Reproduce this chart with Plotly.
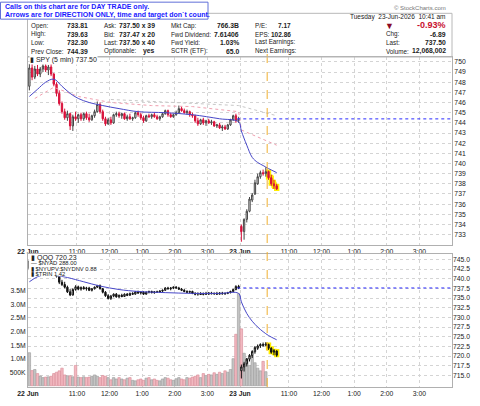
import plotly.graph_objects as go

# ---------------- data ----------------
# SPY 5-min bars: 22 Jun (78 bars) then 23 Jun (14 bars)
spy_open = [747.6,749.4,748.5,749.3,748.8,749.3,749.6,749.2,749.5,748.8,747.8,746.9,745.9,745.1,744.5,744.9,743.7,744.6,744.4,744.8,
            744.4,744.9,744.5,744.3,744.7,745.1,745.8,745.1,744.4,743.9,744.3,744.0,744.8,744.9,744.7,744.9,744.4,744.6,744.4,744.5,
            745.0,744.8,744.5,744.2,744.7,744.6,744.8,744.6,744.4,744.6,744.9,745.2,744.8,744.6,744.8,745.0,745.4,745.2,745.0,745.1,
            744.8,744.7,744.2,743.9,744.3,744.0,744.2,744.0,744.1,743.7,743.8,743.5,743.6,743.4,743.8,744.3,744.7,744.2,
            733.81,733.3,734.5,735.3,736.4,737.0,738.0,738.7,739.1,739.0,739.2,738.6,738.0,737.8]
spy_high = [749.8,749.9,749.6,749.7,749.5,749.9,749.9,749.7,749.8,748.9,748.0,747.2,746.1,745.4,745.2,745.0,744.8,745.1,744.9,745.0,
            745.0,745.1,744.9,744.8,745.3,746.1,746.0,745.3,744.6,744.5,744.6,744.9,745.1,745.1,745.0,745.0,744.8,744.9,744.6,745.1,
            745.2,745.0,744.7,744.8,744.9,744.9,745.0,744.8,744.7,745.0,745.3,745.3,745.0,744.9,745.2,745.7,745.6,745.4,745.3,745.2,
            745.0,744.8,744.5,744.4,744.5,744.3,744.4,744.3,744.2,743.9,744.0,743.8,743.8,743.9,744.4,744.8,744.9,744.6,
            734.0,734.6,735.5,736.7,737.1,738.4,739.0,739.3,739.4,739.63,739.3,738.9,738.4,738.0]
spy_low = [747.2,748.2,748.3,748.6,748.5,749.0,749.0,748.7,748.6,747.6,746.6,745.7,744.9,744.3,744.2,743.3,743.2,744.2,744.0,744.2,
           744.2,744.3,744.1,744.2,744.5,745.0,744.9,744.2,743.7,743.8,743.8,743.9,744.6,744.5,744.4,744.3,744.2,744.3,744.2,744.4,
           744.6,744.3,744.0,744.1,744.5,744.4,744.5,744.3,744.2,744.5,744.8,744.6,744.5,744.5,744.7,744.9,745.1,744.9,744.8,744.6,
           744.5,744.0,743.7,743.8,743.8,743.7,743.9,743.8,743.6,743.5,743.4,743.2,743.3,743.3,743.7,744.2,744.0,744.0,
           732.30,732.5,734.2,735.2,736.2,736.9,737.9,738.5,738.8,738.7,738.4,737.8,737.5,737.4]
spy_close = [749.4,748.5,749.3,748.8,749.3,749.6,749.2,749.5,748.8,747.8,746.9,745.9,745.1,744.5,744.9,743.7,744.6,744.4,744.8,744.4,
             744.9,744.5,744.3,744.7,745.1,745.8,745.1,744.4,743.9,744.3,744.0,744.8,744.9,744.7,744.9,744.4,744.6,744.4,744.5,745.0,
             744.8,744.5,744.2,744.7,744.6,744.8,744.6,744.4,744.6,744.9,745.2,744.8,744.6,744.8,745.0,745.4,745.2,745.0,745.1,744.8,
             744.7,744.2,743.9,744.3,744.0,744.2,744.0,744.1,743.7,743.8,743.5,743.6,743.4,743.8,744.3,744.7,744.2,744.39,
             733.3,734.5,735.3,736.5,736.9,738.1,738.7,739.1,739.0,739.2,738.6,738.0,737.8,737.5]

qqq_open = [742.6,744.6,743.9,744.7,744.2,744.8,745.3,744.7,745.0,743.9,742.2,740.6,739.1,738.5,737.8,736.6,735.8,737.2,737.9,737.3,
            737.7,737.4,737.6,737.0,737.4,737.8,738.2,737.4,736.5,735.6,734.9,735.5,736.0,735.3,735.7,735.4,736.0,735.7,736.2,736.0,
            736.6,736.3,736.5,736.0,736.5,736.7,736.4,736.6,736.5,736.8,737.0,737.6,737.4,737.6,737.8,737.6,737.3,737.0,736.7,736.5,
            736.7,736.2,736.0,736.2,735.9,736.2,736.0,736.3,736.1,736.2,736.0,736.3,736.1,736.2,736.4,736.7,737.2,738.0,
            716.2,717.2,718.0,719.2,720.1,721.1,722.0,722.6,723.0,722.8,723.0,722.0,721.0,721.3]
qqq_high = [745.0,745.3,745.0,745.2,745.0,745.6,745.5,745.3,745.1,744.0,742.5,740.9,739.7,739.2,738.2,737.3,737.5,738.3,738.2,738.0,
            738.1,737.9,737.9,737.6,738.0,738.4,738.5,737.6,736.8,736.0,735.8,736.2,736.3,735.9,736.1,736.2,736.3,736.4,736.5,736.8,
            736.9,736.7,736.8,736.7,736.9,736.9,736.8,736.9,737.0,737.2,737.8,737.9,737.8,738.0,738.1,737.9,737.6,737.3,737.0,736.9,
            736.9,736.5,736.4,736.5,736.4,736.6,736.5,736.6,736.4,736.6,736.5,736.6,736.4,736.6,736.9,737.4,738.3,738.4,
            717.8,718.5,719.5,720.5,721.5,722.6,723.0,723.3,723.5,723.6,723.2,722.3,721.8,721.5]
qqq_low = [742.2,743.6,743.6,744.0,743.9,744.5,744.4,744.2,743.6,741.9,740.3,738.6,738.1,737.5,736.3,735.5,735.6,736.9,737.0,736.9,
           737.2,736.9,736.8,736.7,737.2,737.6,737.2,736.2,735.3,734.6,734.5,735.2,735.1,735.0,735.2,735.3,735.5,735.6,735.8,735.9,
           736.1,735.9,735.8,735.9,736.2,736.2,736.1,736.3,736.4,736.5,736.9,737.2,737.0,737.3,737.4,737.1,736.8,736.5,736.3,736.2,
           736.0,735.7,735.6,735.8,735.7,735.9,735.8,736.0,735.8,735.9,735.9,735.9,735.8,736.0,736.2,736.5,737.0,737.3,
           714.2,716.0,717.3,718.6,719.5,720.6,721.6,722.1,722.4,722.5,721.6,720.6,720.2,719.8]
qqq_close = [744.6,743.9,744.7,744.2,744.8,745.3,744.7,745.0,743.9,742.2,740.6,739.1,738.5,737.8,736.6,735.8,737.2,737.9,737.3,737.7,
             737.4,737.6,737.0,737.4,737.8,738.2,737.4,736.5,735.6,734.9,735.5,736.0,735.3,735.7,735.4,736.0,735.7,736.2,736.0,736.6,
             736.3,736.5,736.0,736.5,736.7,736.4,736.6,736.5,736.8,737.0,737.6,737.4,737.6,737.8,737.6,737.3,737.0,736.7,736.5,736.7,
             736.2,736.0,736.2,735.9,736.2,736.0,736.3,736.1,736.2,736.0,736.3,736.1,736.2,736.4,736.7,737.2,738.0,737.6,
             717.2,718.0,719.2,720.2,721.2,722.2,722.6,723.0,722.8,723.1,722.0,721.0,721.4,720.23]

volume_m = [1.22,0.56,0.6,0.45,0.36,0.3,0.32,0.33,0.35,0.45,0.5,0.55,0.65,0.4,0.37,0.37,0.33,0.75,0.32,0.3,
            0.33,0.3,0.32,0.35,0.4,0.35,0.3,0.38,0.35,0.3,0.22,0.3,0.25,0.3,0.25,0.22,0.28,0.3,0.2,0.18,
            0.22,0.25,0.2,0.28,0.3,0.22,0.25,0.2,0.18,0.25,0.3,0.28,0.22,0.2,0.26,0.3,0.25,0.22,0.3,0.28,
            0.32,0.35,0.4,0.3,0.45,0.38,0.42,0.4,0.48,0.42,0.5,0.45,0.55,0.5,0.6,1.0,1.9,3.4,
            2.1,1.2,1.0,0.75,1.1,0.85,0.65,0.55,0.9,0.52,None,None,None,None]

# moving averages (bar index, value)
spy_ma_idx = [0,3,6,9,12,15,18,22,27,33,40,50,60,70,77,78,80,82,84,86,88,91]
spy_ma_val = [746.6,747.3,748.0,748.3,747.6,746.9,746.4,746.0,745.7,745.4,745.1,745.0,744.8,744.4,744.1,743.2,741.8,740.6,740.1,739.8,739.5,739.1]
spy_ma2_idx = [2,9,18,30,45,60,77,78,91]
spy_ma2_val = [746.4,747.5,746.6,746.0,745.7,745.6,745.1,743.3,741.8]
spy_ma3_idx = [30,45,60,77,91]
spy_ma3_val = [746.3,746.1,745.9,745.7,744.7]
qqq_ma_idx = [0,3,6,10,14,20,26,33,40,50,60,70,77,78,80,82,84,86,88,91]
qqq_ma_val = [739.2,740.5,741.0,740.8,740.3,739.2,738.1,737.2,736.7,736.4,736.2,736.2,736.2,734.0,731.0,729.0,727.5,726.3,725.3,724.2]

spy_prev_close = 744.39
qqq_prev_close = 737.6
highlight_from = 88

tick_idx = [0, 18, 30, 42, 54, 66, 78, 96, 108, 120, 132, 144]
tick_txt = ["<b>22 Jun</b>", "11:00", "12:00", "1:00", "2:00", "3:00",
            "<b>23 Jun</b>", "11:00", "12:00", "1:00", "2:00", "3:00"]
spy_ticks = list(range(733, 751))
qqq_ticks = [715, 717.5, 720, 722.5, 725, 727.5, 730, 732.5, 735, 737.5, 740, 742.5, 745]
vol_ticks = [0.5, 1.0, 1.5, 2.0, 2.5, 3.0, 3.5]
vol_ticktext = ["500K", "1.0M", "1.5M", "2.0M", "2.5M", "3.0M", "3.5M"]

# ---------------- figure ----------------
n = len(spy_close)
xs = [i + 0.5 for i in range(n)]
FONT = "Liberation Sans, Arial, sans-serif"
L, R, T, B = 28, 452, 57, 397
def PX(x): return (x - L) / (R - L)
def PY(y): return (B - y) / (B - T)

fig = go.Figure()

vol_col = ["#c4c4c4" if c >= o else "#f2b8c0" for o, c in zip(spy_open, spy_close)]
vol_line = ["#9a9a9a" if c >= o else "#d88a96" for o, c in zip(spy_open, spy_close)]
fig.add_trace(go.Bar(x=xs, y=volume_m, marker=dict(color=vol_col, line=dict(color=vol_line, width=0.6)),
                     width=0.9, xaxis="x2", yaxis="y2", showlegend=False, hoverinfo="skip"))

hl = slice(highlight_from, n)
yellow = dict(line=dict(color="#ffee00", width=4), fillcolor="#ffee00")
fig.add_trace(go.Candlestick(x=xs[hl], open=spy_open[hl], high=spy_high[hl], low=spy_low[hl], close=spy_close[hl],
                             increasing=yellow, decreasing=yellow,
                             xaxis="x", yaxis="y", showlegend=False, hoverinfo="skip"))
fig.add_trace(go.Candlestick(x=xs[hl], open=qqq_open[hl], high=qqq_high[hl], low=qqq_low[hl], close=qqq_close[hl],
                             increasing=yellow, decreasing=yellow,
                             xaxis="x2", yaxis="y3", showlegend=False, hoverinfo="skip"))

fig.add_trace(go.Candlestick(x=xs, open=spy_open, high=spy_high, low=spy_low, close=spy_close,
                             increasing=dict(line=dict(color="#444444", width=1), fillcolor="white"),
                             decreasing=dict(line=dict(color="#d8103a", width=1), fillcolor="#e0103a"),
                             whiskerwidth=0, xaxis="x", yaxis="y", showlegend=False, hoverinfo="skip"))
fig.add_trace(go.Candlestick(x=xs, open=qqq_open, high=qqq_high, low=qqq_low, close=qqq_close,
                             increasing=dict(line=dict(color="#111111", width=1), fillcolor="white"),
                             decreasing=dict(line=dict(color="#111111", width=1), fillcolor="#111111"),
                             whiskerwidth=0, xaxis="x2", yaxis="y3", showlegend=False, hoverinfo="skip"))

fig.add_trace(go.Scatter(x=[i + 0.5 for i in spy_ma3_idx], y=spy_ma3_val, mode="lines",
                         line=dict(color="#c8c8c8", width=1, dash="dot"), xaxis="x", yaxis="y", showlegend=False))
fig.add_trace(go.Scatter(x=[i + 0.5 for i in spy_ma2_idx], y=spy_ma2_val, mode="lines",
                         line=dict(color="#f0a0b0", width=1, dash="dot"), xaxis="x", yaxis="y", showlegend=False))
fig.add_trace(go.Scatter(x=[i + 0.5 for i in spy_ma_idx], y=spy_ma_val, mode="lines", line_shape="spline",
                         line=dict(color="#4848c8", width=1), xaxis="x", yaxis="y", showlegend=False))
fig.add_trace(go.Scatter(x=[i + 0.5 for i in qqq_ma_idx], y=qqq_ma_val, mode="lines", line_shape="spline",
                         line=dict(color="#4848c8", width=1), xaxis="x2", yaxis="y3", showlegend=False))

fig.add_trace(go.Scatter(x=[77, 156], y=[spy_prev_close] * 2, mode="lines",
                         line=dict(color="#2a2aff", width=1, dash="dot"), xaxis="x", yaxis="y", showlegend=False))
fig.add_trace(go.Scatter(x=[77, 156], y=[qqq_prev_close] * 2, mode="lines",
                         line=dict(color="#2a2aff", width=1, dash="dot"), xaxis="x2", yaxis="y3", showlegend=False))

grid = dict(showgrid=True, gridcolor="#d4d4d4", griddash="dot", gridwidth=1)
axfont = dict(family=FONT, size=6.8, color="#222")
xcommon = dict(range=[0, 156], tickmode="array", tickvals=tick_idx, ticktext=tick_txt, tickfont=axfont,
               showline=True, linecolor="#b0b0b0", mirror=True, ticks="", rangeslider=dict(visible=False),
               zeroline=False, **grid)

fig.update_layout(
    width=480, height=406, margin=dict(l=L, r=480 - R, t=T, b=406 - B),
    paper_bgcolor="white", plot_bgcolor="white", showlegend=False,
    font=dict(family=FONT, size=7, color="#222"),
    xaxis=dict(anchor="y", **xcommon),
    xaxis2=dict(anchor="y2", matches="x", **xcommon),
    yaxis=dict(domain=[PY(251), 1], side="right", range=[731.95, 750.48], tickmode="array",
               tickvals=spy_ticks, tickfont=axfont,
               showline=True, linecolor="#b0b0b0", mirror=True, ticks="", zeroline=False, **grid),
    yaxis2=dict(domain=[0, PY(259.5)], side="left", range=[-0.046, 4.88], tickmode="array",
                tickvals=vol_ticks, ticktext=vol_ticktext, tickfont=axfont,
                showgrid=False, showline=True, linecolor="#b0b0b0", mirror=True, ticks="", zeroline=False),
    yaxis3=dict(overlaying="y2", side="right", range=[712.0, 746.5], tickmode="array",
                tickvals=qqq_ticks, ticktext=["%.1f" % v for v in qqq_ticks], tickfont=axfont, zeroline=False,
                showline=False, ticks="", **grid),
)

shapes = []
shapes.append(dict(type="line", xref="x", yref="paper", x0=88, x1=88, y0=0, y1=PY(50),
                   line=dict(color="#f0b030", width=1, dash="dash")))
shapes.append(dict(type="rect", xref="paper", yref="paper", x0=PX(27.5), x1=PX(452), y0=PY(57), y1=PY(12),
                   line=dict(color="#b8b8b8", width=1), fillcolor="rgba(0,0,0,0)"))
shapes.append(dict(type="rect", xref="paper", yref="paper", x0=PX(0.5), x1=PX(208), y0=PY(18), y1=PY(0.5),
                   line=dict(color="#6070d8", width=1), fillcolor="white", layer="above"))
shapes.append(dict(type="rect", xref="paper", yref="paper", x0=PX(28.6), x1=PX(100), y0=PY(283), y1=PY(260),
                   line=dict(width=0), fillcolor="white", layer="above"))
fig.update_layout(shapes=shapes)

ann = []
def txt(x, y, s, anchor="left", size=6.3, color="#222", bold=False, bg=None):
    d = dict(xref="paper", yref="paper", x=PX(x), y=PY(y), text=("<b>%s</b>" % s) if bold else s,
             showarrow=False, xanchor=anchor, yanchor="middle",
             font=dict(family=FONT, size=size, color=color))
    if bg:
        d["bgcolor"] = bg
        d["borderpad"] = 0
    ann.append(d)

txt(3, 5.5, "Calls on this chart are for DAY TRADE only.", size=7, color="#1a1aff", bold=True)
txt(3, 13.5, "Arrows are for DIRECTION ONLY, time and target don`t count.", size=7, color="#1a1aff", bold=True)
txt(448, 6, "© StockCharts.com", anchor="right", size=6, color="#777")
txt(448, 16, "Tuesday&nbsp;&nbsp;23-Jun-2026&nbsp;&nbsp;10:41 am", anchor="right", size=6.5)

VS = 6.8
rows = [25, 33.5, 42, 51]
for y, lab, val in zip(rows, ["Open:", "High:", "Low:", "Prev Close:"], ["733.81", "739.63", "732.30", "744.39"]):
    txt(29, y, lab); txt(90, y, val, anchor="right", bold=True, size=VS)
for y, lab, val in zip(rows, ["Ask:", "Bid:", "Last:", "Optionable:"], ["737.50 x 39", "737.47 x 20", "737.50 x 40", "yes"]):
    txt(102, y, lab); txt(157, y, val, anchor="right", bold=True, size=VS)
for y, lab, val in zip(rows, ["Mkt Cap:", "Fwd Dividend:", "Fwd Yield:", "SCTR (ETF):"], ["766.3B", "7.61406", "1.03%", "65.0"]):
    txt(169, y, lab); txt(241, y, val, anchor="right", bold=True, size=VS)
for y, lab, val in zip(rows, ["P/E:", "EPS:", "Last Earnings:", "Next Earnings:"], ["7.17", "102.86", "", ""]):
    txt(253, y, lab)
    if val:
        txt(293, y, val, anchor="right", bold=True, size=6.5)
txt(389, 25, "▼", anchor="center", size=9, color="#8a0a25")
txt(448, 24.5, "-0.93%", anchor="right", size=9, color="#c8102e", bold=True)
for y, lab, val in zip(rows[1:], ["Chg:", "Last:", "Volume:"], ["-6.89", "737.50", "12,068,002"]):
    txt(384, y, lab); txt(448, y, val, anchor="right", bold=True, size=VS)

txt(29, 60.5, "▮ SPY (5 min) 737.50", size=7, bg="white")
txt(29, 264, "▮ QQQ 720.23", size=7)
txt(29, 269.5, "— $NYAD 288.00", size=5.8)
txt(29, 275, "▮ $NYUPV:$NYDNV 0.88", size=5.8)
txt(29, 280.5, "▮ $TRIN 1.42", size=5.8)
fig.update_layout(annotations=ann)

fig.write_html("out.html")
